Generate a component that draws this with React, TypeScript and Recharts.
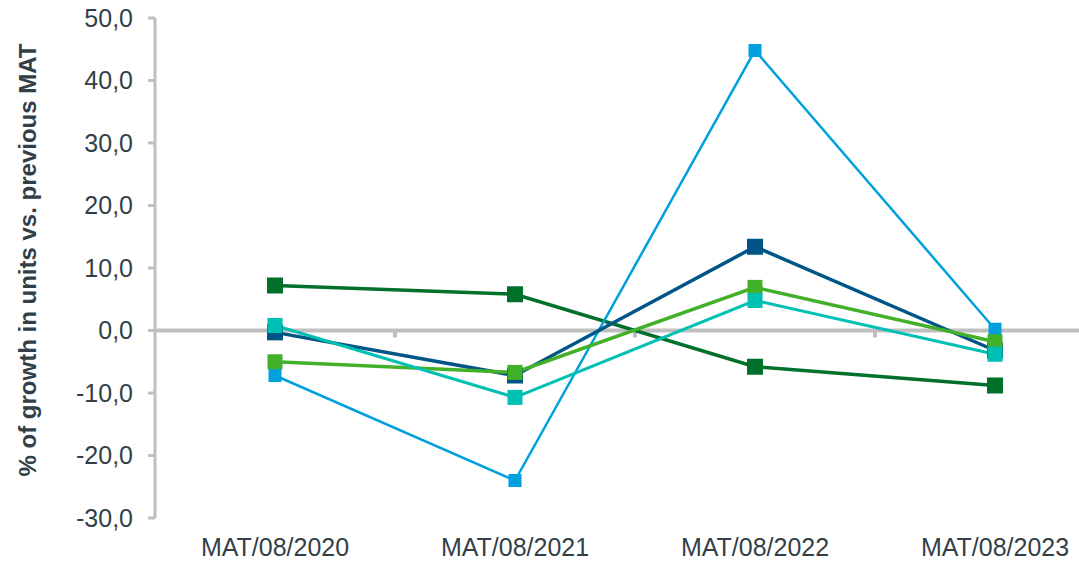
import React from 'react'
import { LineChart, Line, XAxis, YAxis, ReferenceLine } from 'recharts'

const categories = ['MAT/08/2020', 'MAT/08/2021', 'MAT/08/2022', 'MAT/08/2023']
const darkGreen = [7.2, 5.8, -5.8, -8.8]
const lightBlue = [-7.2, -24.0, 44.8, 0.2]
const darkBlue = [-0.3, -7.2, 13.4, -3.2]
const green = [-5.0, -6.7, 6.9, -1.8]
const teal = [0.8, -10.7, 4.8, -3.8]
const yTicks = [-30, -20, -10, 0, 10, 20, 30, 40, 50]

const data = categories.map((name, i) => ({
  name,
  darkGreen: darkGreen[i],
  lightBlue: lightBlue[i],
  darkBlue: darkBlue[i],
  green: green[i],
  teal: teal[i]
}))

const AXIS = '#BFBFBF'
const TEXT = '#333F48'
const FONT = '"Liberation Sans", Arial, sans-serif'

const square = (color: string, size: number) => (p: any) => {
  if (p.cx == null || p.cy == null) return <g key={p.index} />
  return <rect key={p.index} x={p.cx - size / 2} y={p.cy - size / 2} width={size} height={size} fill={color} />
}

const ZeroLine = (p: any) => {
  const { x1, x2, y1 } = p
  const n = categories.length
  const step = (x2 - x1) / n
  const marks = []
  for (let k = 1; k < n; k++) {
    const x = x1 + step * k
    marks.push(<line key={k} x1={x} x2={x} y1={y1} y2={y1 + 7} stroke={AXIS} strokeWidth={4} />)
  }
  return (
    <g>
      <line x1={x1} x2={x2} y1={y1} y2={y1} stroke={AXIS} strokeWidth={4} />
      {marks}
    </g>
  )
}

const YLabel = (p: any) => {
  const vb = p.viewBox || { y: 0, height: 0 }
  const cx = 27
  const cy = vb.y + vb.height / 2 - 8
  return (
    <text x={cx} y={cy} transform={`rotate(-90 ${cx} ${cy})`} textAnchor="middle" dominantBaseline="central"
      fontFamily={FONT} fontSize={24} fontWeight="bold" fill={TEXT}>
      % of growth in units vs. previous MAT
    </text>
  )
}

export default function App() {
  return (
    <div style={{ position: 'absolute', left: 0, top: 0, width: 1079, height: 565, overflow: 'hidden', background: '#fff' }}>
      <LineChart width={1125} height={565} data={data} margin={{ top: 18, right: 10, bottom: 0, left: 0 }}>
        <XAxis dataKey="name" scale="band" height={47} axisLine={false} tickLine={false} tickMargin={14}
          tick={{ fontFamily: FONT, fontSize: 25, fill: TEXT }} interval={0} />
        <YAxis width={155} domain={[-30, 50]} ticks={yTicks} interval={0}
          axisLine={{ stroke: AXIS, strokeWidth: 3 }} tickLine={{ stroke: AXIS, strokeWidth: 3 }} tickSize={7} tickMargin={15}
          tickFormatter={(v: number) => v.toFixed(1).replace('.', ',')}
          tick={{ fontFamily: FONT, fontSize: 25, fill: TEXT }}
          label={{ content: YLabel }} />
        <ReferenceLine y={0} shape={ZeroLine} />
        <Line dataKey="darkGreen" name="Series 1" stroke="#00702A" strokeWidth={3.5} dot={square('#00702A', 16)} isAnimationActive={false} />
        <Line dataKey="lightBlue" name="Series 2" stroke="#00A0DF" strokeWidth={2.5} dot={square('#00A0DF', 13)} isAnimationActive={false} />
        <Line dataKey="darkBlue" name="Series 3" stroke="#005587" strokeWidth={3.5} dot={square('#005587', 16)} isAnimationActive={false} />
        <Line dataKey="green" name="Series 4" stroke="#43B02A" strokeWidth={3.5} dot={square('#43B02A', 15)} isAnimationActive={false} />
        <Line dataKey="teal" name="Series 5" stroke="#00BFB3" strokeWidth={3} dot={square('#00BFB3', 15)} isAnimationActive={false} />
      </LineChart>
    </div>
  )
}
